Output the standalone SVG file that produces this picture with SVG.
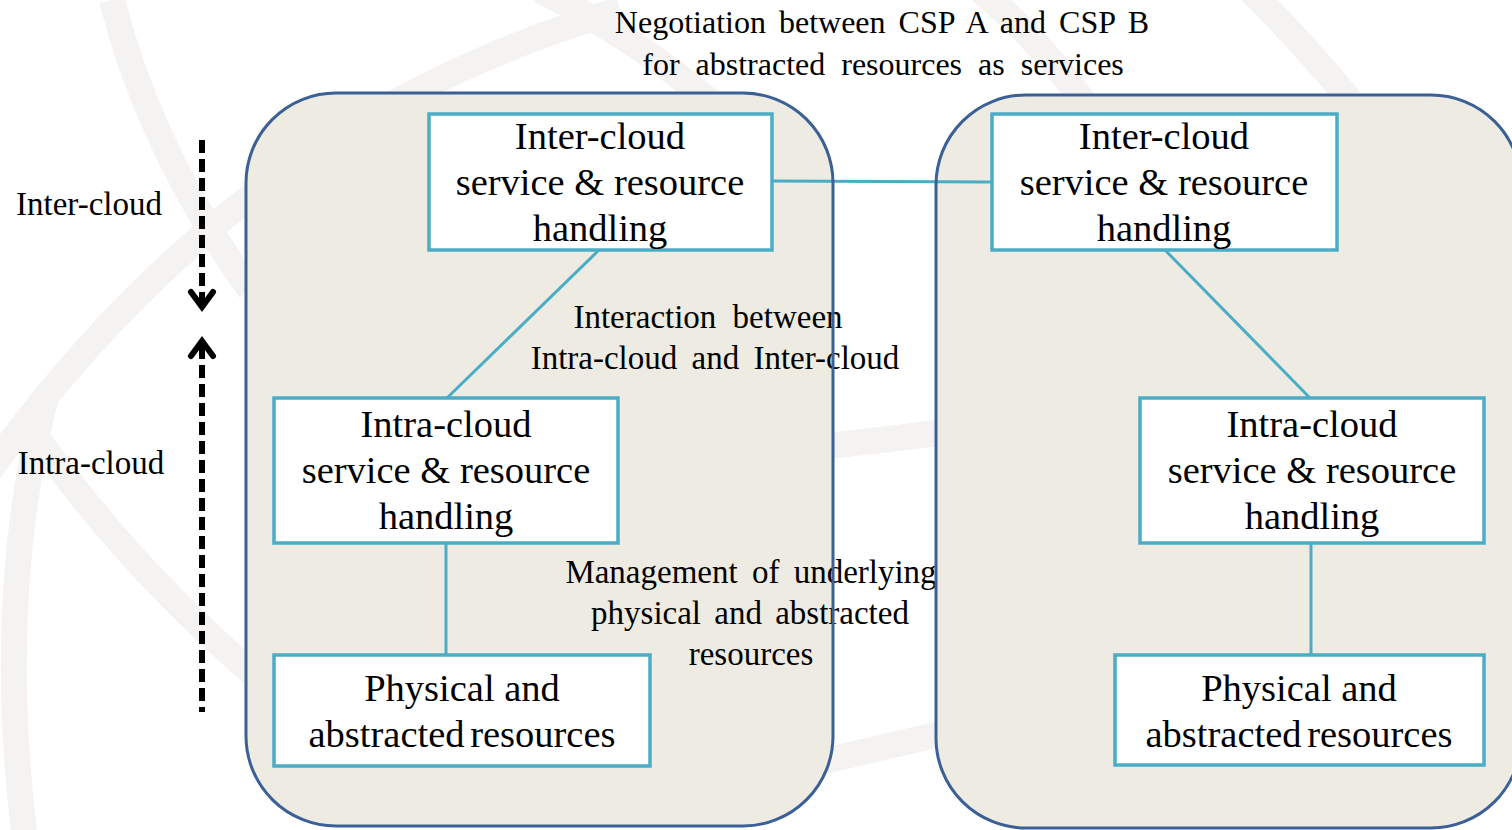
<svg xmlns="http://www.w3.org/2000/svg" width="1512" height="830" viewBox="0 0 1512 830">
<style>
.bg{fill:none;stroke:#f4f3f1;stroke-width:26;stroke-linecap:butt}
.cloud{fill:#eeebe2;stroke:none}
.cloudline{fill:none;stroke:#3a6095;stroke-width:3}
.box{fill:#ffffff;stroke:#4bacc6;stroke-width:3.5}
.conn{fill:none;stroke:#4bacc6;stroke-width:3}
.t{font-family:"Liberation Serif","Times New Roman",serif;fill:#000;text-anchor:middle}
.bt{font-size:38.5px}
.lt{font-size:33px}
.dash{fill:none;stroke:#000;stroke-width:6;stroke-dasharray:13 6}
.head{fill:none;stroke:#000;stroke-width:6;stroke-linecap:round;stroke-linejoin:miter}
</style>
<rect width="1512" height="830" fill="#ffffff"/>
<g id="background">
<path class="bg" d="M 112 0 Q 150 150 250 290"/>
<path class="bg" d="M -10 470 Q 240 120 620 10"/>
<path class="bg" d="M 45 400 Q -5 600 25 840"/>
<path class="bg" d="M 25 420 Q 120 560 260 680"/>
<path class="bg" d="M 540 -10 Q 640 40 720 110"/>
<path class="bg" d="M 980 -10 Q 1040 40 1090 110"/>
<path class="bg" d="M 1250 -10 Q 1300 40 1350 100"/>
<path class="bg" d="M 700 460 Q 850 445 1000 425"/>
<path class="bg" d="M 700 790 Q 850 755 1000 720"/>
</g>
<g id="cloud-a"><rect class="cloud" x="246" y="93" width="587" height="733" rx="90" ry="90"/></g>
<g id="cloud-b"><rect class="cloud" x="936" y="95" width="585" height="733" rx="90" ry="90"/></g>
<g id="connectors">
<line class="conn" x1="772" y1="181" x2="992" y2="182"/>
<line class="conn" x1="599" y1="250" x2="447" y2="398"/>
<line class="conn" x1="1165" y1="250" x2="1310" y2="398"/>
<line class="conn" x1="446" y1="543" x2="446" y2="655"/>
<line class="conn" x1="1311" y1="543" x2="1311" y2="655"/>
</g>
<g id="inter-a">
<rect class="box" x="429" y="114" width="343" height="136"/>
<text class="t bt" x="600" y="149">Inter-cloud</text>
<text class="t bt" x="600" y="195">service &amp; resource</text>
<text class="t bt" x="600" y="241">handling</text>
</g>
<g id="intra-a">
<rect class="box" x="274" y="398" width="344" height="145"/>
<text class="t bt" x="446" y="437">Intra-cloud</text>
<text class="t bt" x="446" y="483">service &amp; resource</text>
<text class="t bt" x="446" y="529">handling</text>
</g>
<g id="phys-a">
<rect class="box" x="274" y="655" width="376" height="111"/>
<text class="t bt" x="462" y="701">Physical and</text>
<text class="t bt" x="462" y="747" word-spacing="-4">abstracted resources</text>
</g>
<g id="inter-b">
<rect class="box" x="992" y="114" width="345" height="136"/>
<text class="t bt" x="1164" y="149">Inter-cloud</text>
<text class="t bt" x="1164" y="195">service &amp; resource</text>
<text class="t bt" x="1164" y="241">handling</text>
</g>
<g id="intra-b">
<rect class="box" x="1140" y="398" width="344" height="145"/>
<text class="t bt" x="1312" y="437">Intra-cloud</text>
<text class="t bt" x="1312" y="483">service &amp; resource</text>
<text class="t bt" x="1312" y="529">handling</text>
</g>
<g id="phys-b">
<rect class="box" x="1115" y="655" width="369" height="110"/>
<text class="t bt" x="1299" y="701">Physical and</text>
<text class="t bt" x="1299" y="747" word-spacing="-4">abstracted resources</text>
</g>
<g id="labels">
<text class="t" style="font-size:32px" x="882" y="33" word-spacing="5">Negotiation between CSP A and CSP B</text>
<text class="t" style="font-size:32px" x="883" y="75" word-spacing="8">for abstracted resources as services</text>
<text class="t lt" x="708" y="328" word-spacing="8">Interaction between</text>
<text class="t lt" x="715" y="369" word-spacing="6">Intra-cloud and Inter-cloud</text>
<text class="t lt" x="751" y="583" word-spacing="6">Management of underlying</text>
<text class="t lt" x="750" y="624" word-spacing="5">physical and abstracted</text>
<text class="t lt" x="751" y="665">resources</text>
<text class="t lt" x="89" y="215">Inter-cloud</text>
<text class="t lt" x="91" y="474">Intra-cloud</text>
</g>
<g id="cloud-outlines">
<rect class="cloudline" x="246" y="93" width="587" height="733" rx="90" ry="90"/>
<rect class="cloudline" x="936" y="95" width="585" height="733" rx="90" ry="90"/>
</g>
<g id="level-arrows">
<line class="dash" x1="202" y1="140" x2="202" y2="302"/>
<polyline class="head" points="191,292 202,307 213,292"/>
<line class="dash" x1="202" y1="346" x2="202" y2="712"/>
<polyline class="head" points="191,356 202,341 213,356"/>
</g>
</svg>
